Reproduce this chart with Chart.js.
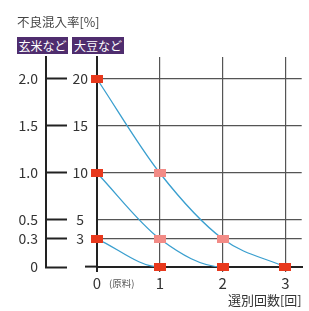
<!DOCTYPE html>
<html>
<head>
<meta charset="utf-8">
<script src="https://cdn.jsdelivr.net/npm/chart.js@4.4.1/dist/chart.umd.min.js"></script>
<style>
  html, body { margin: 0; padding: 0; background: #fff; }
  #wrap { position: relative; width: 309px; height: 311px; font-family: 'Noto Sans CJK JP', 'Noto Sans', sans-serif; }
  #chart { position: absolute; left: 0; top: 0; }
  .title { position: absolute; left: 17px; top: 12px; font-size: 12.5px; color: #444; line-height: 20px; white-space: nowrap; }
  .badge { position: absolute; top: 37px; height: 17px; line-height: 17px; background: #4f2d6e; color: #fff; font-size: 12px; text-align: center; white-space: nowrap; }
  .note { position: absolute; left: 109px; top: 276px; font-size: 9.5px; color: #555; line-height: 14px; white-space: nowrap; }
</style>
</head>
<body>
<div id="wrap">
  <canvas id="chart" width="309" height="311"></canvas>
  <div class="title">不良混入率[%]</div>
  <div class="badge" style="left:17px;width:51px;">玄米など</div>
  <div class="badge" style="left:72px;width:52px;">大豆など</div>
  <div class="note">(原料)</div>
</div>
<script>
// selection rounds (x) and contamination after each round
var rounds = [0, 1, 2, 3];
var fromTwenty = [20, 10, 3, 0];
var fromTen = [10, 3, 0, 0];
var fromThree = [3, 0, 0, 0];

// tick values: inner axis (大豆など, %), outer axis (玄米など, %)
var soyTicks = [0, 3, 5, 10, 15, 20];
var riceTicks = [0, 0.3, 0.5, 1.0, 1.5, 2.0];

var BLUE = '#3a9fcf';
var RED = '#e8391d';
var PINK = '#f28b86';
var AXIS = '#222';
var GRID = '#555';
var FONT = "'Noto Sans CJK JP', 'Noto Sans', sans-serif";

function makeMark(color) {
    var c = document.createElement('canvas');
    c.width = 12;
    c.height = 8;
    var g = c.getContext('2d');
    g.fillStyle = color;
    g.fillRect(0, 0, 12, 8);
    return c;
}
var redMark = makeMark(RED);
var pinkMark = makeMark(PINK);

function toPoints(values) {
    return values.map(function(v, i) {
        return { x: rounds[i], y: v };
    });
}

function curve(values) {
    return {
        data: toPoints(values),
        borderColor: BLUE,
        borderWidth: 1.3,
        cubicInterpolationMode: 'monotone',
        clip: false,
        segment: {
            // nothing left to remove: the curve rests on the axis
            borderColor: function(ctx) {
                return (ctx.p0.parsed.y === 0 && ctx.p1.parsed.y === 0) ? 'transparent' : BLUE;
            }
        },
        pointRadius: 6,
        pointHoverRadius: 6,
        pointStyle: function(ctx) {
            var r = ctx.raw;
            if (!r) return redMark;
            return (r.x === 0 || r.y === 0) ? redMark : pinkMark;
        }
    };
}

new Chart(document.getElementById('chart'), {
    type: 'line',
    data: {
        datasets: [curve(fromTwenty), curve(fromTen), curve(fromThree)]
    },
    options: {
        responsive: false,
        animation: false,
        events: [],
        layout: { padding: { top: 57, right: 6, bottom: 0, left: 0 } },
        plugins: {
            legend: { display: false },
            tooltip: { enabled: false }
        },
        scales: {
            x: {
                type: 'linear',
                position: 'bottom',
                min: 0,
                max: 3.26,
                afterBuildTicks: function(scale) {
                    scale.ticks = rounds.map(function(v) { return { value: v }; });
                },
                afterFit: function(scale) { scale.height = 44; },
                grid: {
                    color: function(ctx) { return ctx.tick && ctx.tick.value === 0 ? AXIS : GRID; },
                    lineWidth: function(ctx) { return ctx.tick && ctx.tick.value === 0 ? 2 : 1.2; },
                    tickLength: 5
                },
                border: { color: AXIS, width: 2 },
                ticks: {
                    color: '#333',
                    padding: 2,
                    maxRotation: 0,
                    font: { family: FONT, size: 15 },
                    callback: function(v) { return String(v); }
                },
                title: {
                    display: true,
                    text: '選別回数[回]',
                    align: 'end',
                    color: '#333',
                    font: { family: FONT, size: 13 },
                    padding: { top: 0, bottom: 3 }
                }
            },
            y: {
                position: 'left',
                weight: 0,
                min: 0,
                max: 22.34,
                afterBuildTicks: function(scale) {
                    scale.ticks = soyTicks.map(function(v) { return { value: v }; });
                },
                afterFit: function(scale) { scale.width = 51; },
                grid: {
                    color: function(ctx) { return ctx.tick && ctx.tick.value === 0 ? 'transparent' : GRID; },
                    lineWidth: 1.2,
                    tickLength: 12,
                    tickColor: function(ctx) { return ctx.tick && ctx.tick.value === 0 ? AXIS : 'transparent'; },
                    tickWidth: 2
                },
                border: { color: AXIS, width: 2 },
                ticks: {
                    color: '#333',
                    crossAlign: 'center',
                    padding: -3,
                    font: { family: FONT, size: 14 },
                    callback: function(v) { return v === 0 ? '' : String(v); }
                }
            },
            y2: {
                position: 'left',
                weight: 1,
                min: 0,
                max: 2.234,
                afterBuildTicks: function(scale) {
                    scale.ticks = riceTicks.map(function(v) { return { value: v }; });
                },
                afterFit: function(scale) { scale.width = 46; },
                grid: {
                    drawOnChartArea: false,
                    tickLength: -21,
                    tickColor: AXIS,
                    tickWidth: 2
                },
                border: { color: AXIS, width: 2 },
                ticks: {
                    color: '#333',
                    padding: 29,
                    font: { family: FONT, size: 14 },
                    callback: function(v) { return v === 0 ? '0' : v.toFixed(1); }
                }
            }
        }
    }
});
</script>
</body>
</html>
